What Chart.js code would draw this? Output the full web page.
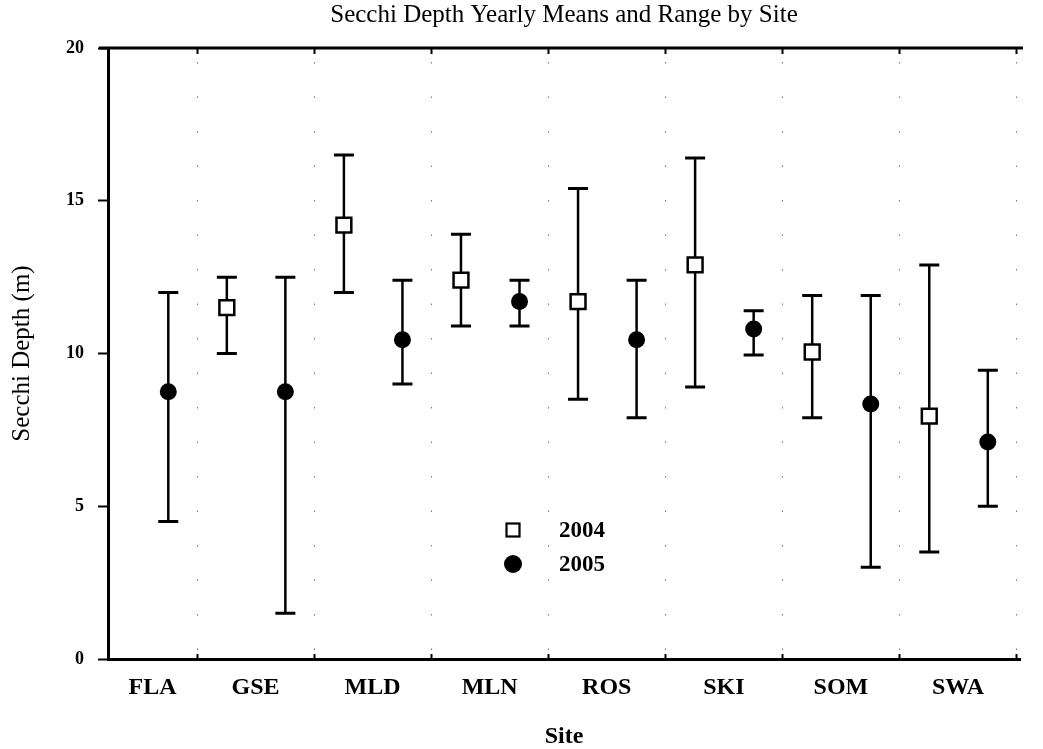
<!DOCTYPE html>
<html>
<head>
<meta charset="utf-8">
<script src="https://cdn.jsdelivr.net/npm/chart.js@4.4.1/dist/chart.umd.min.js"></script>
<style>
  html, body { margin: 0; padding: 0; background: #fff; }
  #wrap { width: 1043px; height: 749px; position: relative; }
</style>
</head>
<body>
<div id="wrap"><canvas id="chart"></canvas></div>
<script>
// sites along the x axis
const sites = ["FLA", "GSE", "MLD", "MLN", "ROS", "SKI", "SOM", "SWA"];

// 2004 yearly mean and range (FLA not sampled in 2004)
const mean2004 = [null, 11.5, 14.2, 12.4, 11.7, 12.9, 10.05, 7.95];
const min2004  = [null, 10.0, 12.0, 10.9, 8.5, 8.9, 7.9, 3.5];
const max2004  = [null, 12.5, 16.5, 13.9, 15.4, 16.4, 11.9, 12.9];

// 2005 yearly mean and range
const mean2005 = [8.75, 8.75, 10.45, 11.7, 10.45, 10.8, 8.35, 7.1];
const min2005  = [4.5, 1.5, 9.0, 10.9, 7.9, 9.95, 3.0, 5.0];
const max2005  = [12.0, 12.5, 12.4, 12.4, 12.4, 11.4, 11.9, 9.45];

const yTicks = [0, 5, 10, 15, 20];

const X_MIN = -0.26, X_MAX = 7.53;
const OFF_2004 = -0.245, OFF_2005 = 0.255;
const SERIF = "'Liberation Serif', 'DejaVu Serif', serif";

function toPoints(means, offset){
  const pts = [];
  means.forEach((m, i) => {
    if (m === null) return;
    pts.push({ x: i + offset, y: m, i: i });
  });
  return pts;
}

// label positions: site centres, FLA centred in the visible part of its slot
const labelPos = sites.map((s, i) => i === 0 ? (X_MIN + 0.5) / 2 : i);

const ranges = [
  { offset: OFF_2004, lo: min2004, hi: max2004 },
  { offset: OFF_2005, lo: min2005, hi: max2005 }
];

const framePlugin = {
  id: 'frame',
  beforeDatasetsDraw(chart){
    const { ctx, chartArea } = chart;
    const xs = chart.scales.x, ys = chart.scales.y;
    ctx.save();
    // sparse dotted grid at the slot boundaries + small inward ticks
    for (let b = 0.5; b < sites.length; b += 1) {
      const px = Math.round(xs.getPixelForValue(b)) + 0.5;
      ctx.strokeStyle = '#777';
      ctx.lineWidth = 1;
      ctx.setLineDash([1.5, 33]);
      ctx.beginPath();
      ctx.moveTo(px, chartArea.top + 14);
      ctx.lineTo(px, chartArea.bottom - 4);
      ctx.stroke();
      ctx.setLineDash([]);
      ctx.strokeStyle = '#000';
      ctx.lineWidth = 2;
      ctx.beginPath();
      ctx.moveTo(px, chartArea.bottom);
      ctx.lineTo(px, chartArea.bottom - 5);
      ctx.moveTo(px, chartArea.top);
      ctx.lineTo(px, chartArea.top + 6);
      ctx.stroke();
    }
    // top border
    ctx.strokeStyle = '#000';
    ctx.lineWidth = 3;
    ctx.beginPath();
    ctx.moveTo(chartArea.left - 9, chartArea.top);
    ctx.lineTo(chartArea.right + 3, chartArea.top);
    ctx.stroke();
    // range bars
    ranges.forEach(r => {
      r.lo.forEach((lo, i) => {
        if (lo === null) return;
        const px = xs.getPixelForValue(i + r.offset);
        const yl = ys.getPixelForValue(lo);
        const yh = ys.getPixelForValue(r.hi[i]);
        ctx.lineWidth = 2.5;
        ctx.beginPath();
        ctx.moveTo(px, yl);
        ctx.lineTo(px, yh);
        ctx.stroke();
        ctx.lineWidth = 3;
        ctx.beginPath();
        ctx.moveTo(px - 10, yl);
        ctx.lineTo(px + 10, yl);
        ctx.moveTo(px - 10, yh);
        ctx.lineTo(px + 10, yh);
        ctx.stroke();
      });
    });
    ctx.restore();
  },
  afterDraw(chart){
    // legend inside the plot
    const { ctx, chartArea } = chart;
    const lx = chartArea.left + 405, ly = chartArea.top + 482;
    ctx.save();
    ctx.fillStyle = '#fff';
    ctx.strokeStyle = '#000';
    ctx.lineWidth = 2.2;
    ctx.fillRect(lx - 6.5, ly - 6.5, 13, 13);
    ctx.strokeRect(lx - 6.5, ly - 6.5, 13, 13);
    ctx.fillStyle = '#000';
    ctx.beginPath();
    ctx.arc(lx, ly + 34, 9, 0, Math.PI * 2);
    ctx.fill();
    ctx.font = "bold 23px " + SERIF;
    ctx.textBaseline = 'middle';
    ctx.fillText('2004', lx + 46, ly + 1);
    ctx.fillText('2005', lx + 46, ly + 35);
    ctx.restore();
  }
};

new Chart(document.getElementById('chart'), {
  type: 'scatter',
  data: {
    datasets: [
      {
        label: '2004',
        data: toPoints(mean2004, OFF_2004),
        pointStyle: 'rect',
        pointRadius: 10.5,
        pointHoverRadius: 10.5,
        backgroundColor: '#fff',
        borderColor: '#000',
        borderWidth: 2.5
      },
      {
        label: '2005',
        data: toPoints(mean2005, OFF_2005),
        pointStyle: 'circle',
        pointRadius: 8.5,
        pointHoverRadius: 8.5,
        backgroundColor: '#000',
        borderColor: '#000',
        borderWidth: 0
      }
    ]
  },
  options: {
    responsive: true,
    maintainAspectRatio: false,
    animation: false,
    layout: { padding: { left: 0, right: 23, top: 0, bottom: 0 } },
    plugins: {
      legend: { display: false },
      tooltip: { enabled: false },
      title: {
        display: true,
        fullSize: false,
        text: 'Secchi Depth Yearly Means and Range by Site',
        color: '#000',
        font: { family: SERIF, size: 25, weight: 'normal', lineHeight: 1.2 },
        padding: { top: 0, bottom: 18 }
      }
    },
    scales: {
      x: {
        type: 'linear',
        min: X_MIN,
        max: X_MAX,
        afterBuildTicks: s => { s.ticks = labelPos.map(v => ({ value: v })); },
        afterFit: s => { s.height = 90; },
        grid: { display: false },
        border: { display: true, color: '#000', width: 3 },
        ticks: {
          color: '#000',
          padding: 6,
          autoSkip: false,
          maxRotation: 0,
          font: { family: SERIF, size: 24, weight: 'bold' },
          callback: (v, idx) => sites[idx]
        },
        title: {
          display: true,
          text: 'Site',
          color: '#000',
          font: { family: SERIF, size: 24, weight: 'bold', lineHeight: 1 },
          padding: { top: 20, bottom: 0 }
        }
      },
      y: {
        min: 0,
        max: 20,
        afterBuildTicks: s => { s.ticks = yTicks.map(v => ({ value: v })); },
        afterFit: s => { s.width = 108; },
        grid: {
          drawOnChartArea: false,
          drawTicks: true,
          tickLength: 10,
          tickWidth: 2,
          color: '#000'
        },
        border: { display: true, color: '#000', width: 3 },
        ticks: {
          color: '#000',
          padding: 14,
          font: { family: SERIF, size: 18, weight: 'bold' }
        },
        title: {
          display: true,
          text: 'Secchi Depth (m)',
          color: '#000',
          font: { family: SERIF, size: 25, weight: 'normal' },
          padding: { top: 7, bottom: 0 }
        }
      }
    }
  },
  plugins: [framePlugin]
});
</script>
</body>
</html>
